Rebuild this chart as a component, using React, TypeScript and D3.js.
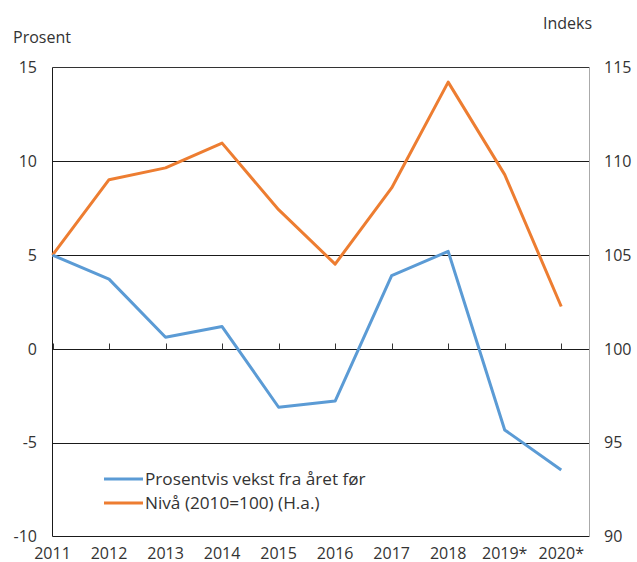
import React from "react";
import * as d3 from "d3";

const years = ["2011", "2012", "2013", "2014", "2015", "2016", "2017", "2018", "2019*", "2020*"];
const growth = [5.0, 3.72, 0.62, 1.19, -3.11, -2.78, 3.9, 5.2, -4.32, -6.46];
const level = [105.0, 109.02, 109.65, 110.97, 107.42, 104.52, 108.58, 114.22, 109.29, 102.26];
const leftTicks = [-10, -5, 0, 5, 10, 15];
const rightTicks = [90, 95, 100, 105, 110, 115];
const seriesNames = ["Prosentvis vekst fra året før", "Nivå (2010=100) (H.a.)"];
const colors = ["#5B9BD5", "#ED7D31"];

const W = 637;
const H = 562;
const L = 52.5;
const R = 589.5;
const T = 67.5;
const B = 536.5;
const FONT = "'Open Sans', sans-serif";
const TEXT = "#333";

export default function App() {
  const x = d3.scaleLinear().domain([0, 9.5]).range([L, R]);
  const yL = d3.scaleLinear().domain([-10, 15]).range([B, T]);
  const yR = d3.scaleLinear().domain([90, 115]).range([B, T]);

  const lineL = d3.line<number>().x((_, i) => x(i)).y((d) => yL(d));
  const lineR = d3.line<number>().x((_, i) => x(i)).y((d) => yR(d));

  const y0 = Math.round(yL(0)) + 0.5;

  return (
    <div style={{ position: "absolute", left: 0, top: 0 }}>
      <svg width={W} height={H} style={{ display: "block", background: "#fff" }}>
        {/* gridlines */}
        {leftTicks.filter((t) => t !== -10 && t !== 15).map((t) => (
          <line key={t} x1={L} x2={R} y1={Math.round(yL(t)) + 0.5} y2={Math.round(yL(t)) + 0.5} stroke="#1a1a1a" strokeWidth={1} />
        ))}
        {/* frame */}
        <line x1={L} x2={R} y1={T} y2={T} stroke="#333" strokeWidth={1} />
        <line x1={L} x2={R} y1={B} y2={B} stroke="#1a1a1a" strokeWidth={1} />
        <line x1={L} x2={L} y1={T} y2={B} stroke="#1a1a1a" strokeWidth={1} />
        <line x1={R} x2={R} y1={T} y2={B} stroke="#aaa" strokeWidth={1} />
        {/* category ticks on the zero line */}
        {years.map((y, i) => (
          <line key={y} x1={Math.round(x(i)) + 0.5} x2={Math.round(x(i)) + 0.5} y1={y0 - 6} y2={y0} stroke="#333" strokeWidth={1} />
        ))}
        {/* series */}
        <path d={lineR(level) || ""} fill="none" stroke={colors[1]} strokeWidth={3} strokeLinejoin="round" />
        <path d={lineL(growth) || ""} fill="none" stroke={colors[0]} strokeWidth={3} strokeLinejoin="round" />
        {/* left axis labels */}
        {leftTicks.map((t) => (
          <text key={t} x={37} y={yL(t)} dy="0.35em" textAnchor="end" fontFamily={FONT} fontSize={16} fill={TEXT}>
            {t}
          </text>
        ))}
        {/* right axis labels */}
        {rightTicks.map((t) => (
          <text key={t} x={604} y={yR(t)} dy="0.35em" textAnchor="start" fontFamily={FONT} fontSize={16} fill={TEXT}>
            {t}
          </text>
        ))}
        {/* x labels */}
        {years.map((y, i) => (
          <text key={y} x={x(i)} y={558.5} textAnchor="middle" fontFamily={FONT} fontSize={16} fill={TEXT}>
            {y}
          </text>
        ))}
        {/* axis titles */}
        <text x={13} y={43} fontFamily={FONT} fontSize={16} fill={TEXT}>Prosent</text>
        <text x={543} y={29} fontFamily={FONT} fontSize={16} fill={TEXT}>Indeks</text>
        {/* legend */}
        {seriesNames.map((n, i) => (
          <g key={n} transform={`translate(0, ${479 + i * 24})`}>
            <line x1={104} x2={143} y1={0} y2={0} stroke={colors[i]} strokeWidth={3} />
            <text x={145} y={0} dy="0.35em" fontFamily={FONT} fontSize={17.2} fill={TEXT}>{n}</text>
          </g>
        ))}
      </svg>
    </div>
  );
}
